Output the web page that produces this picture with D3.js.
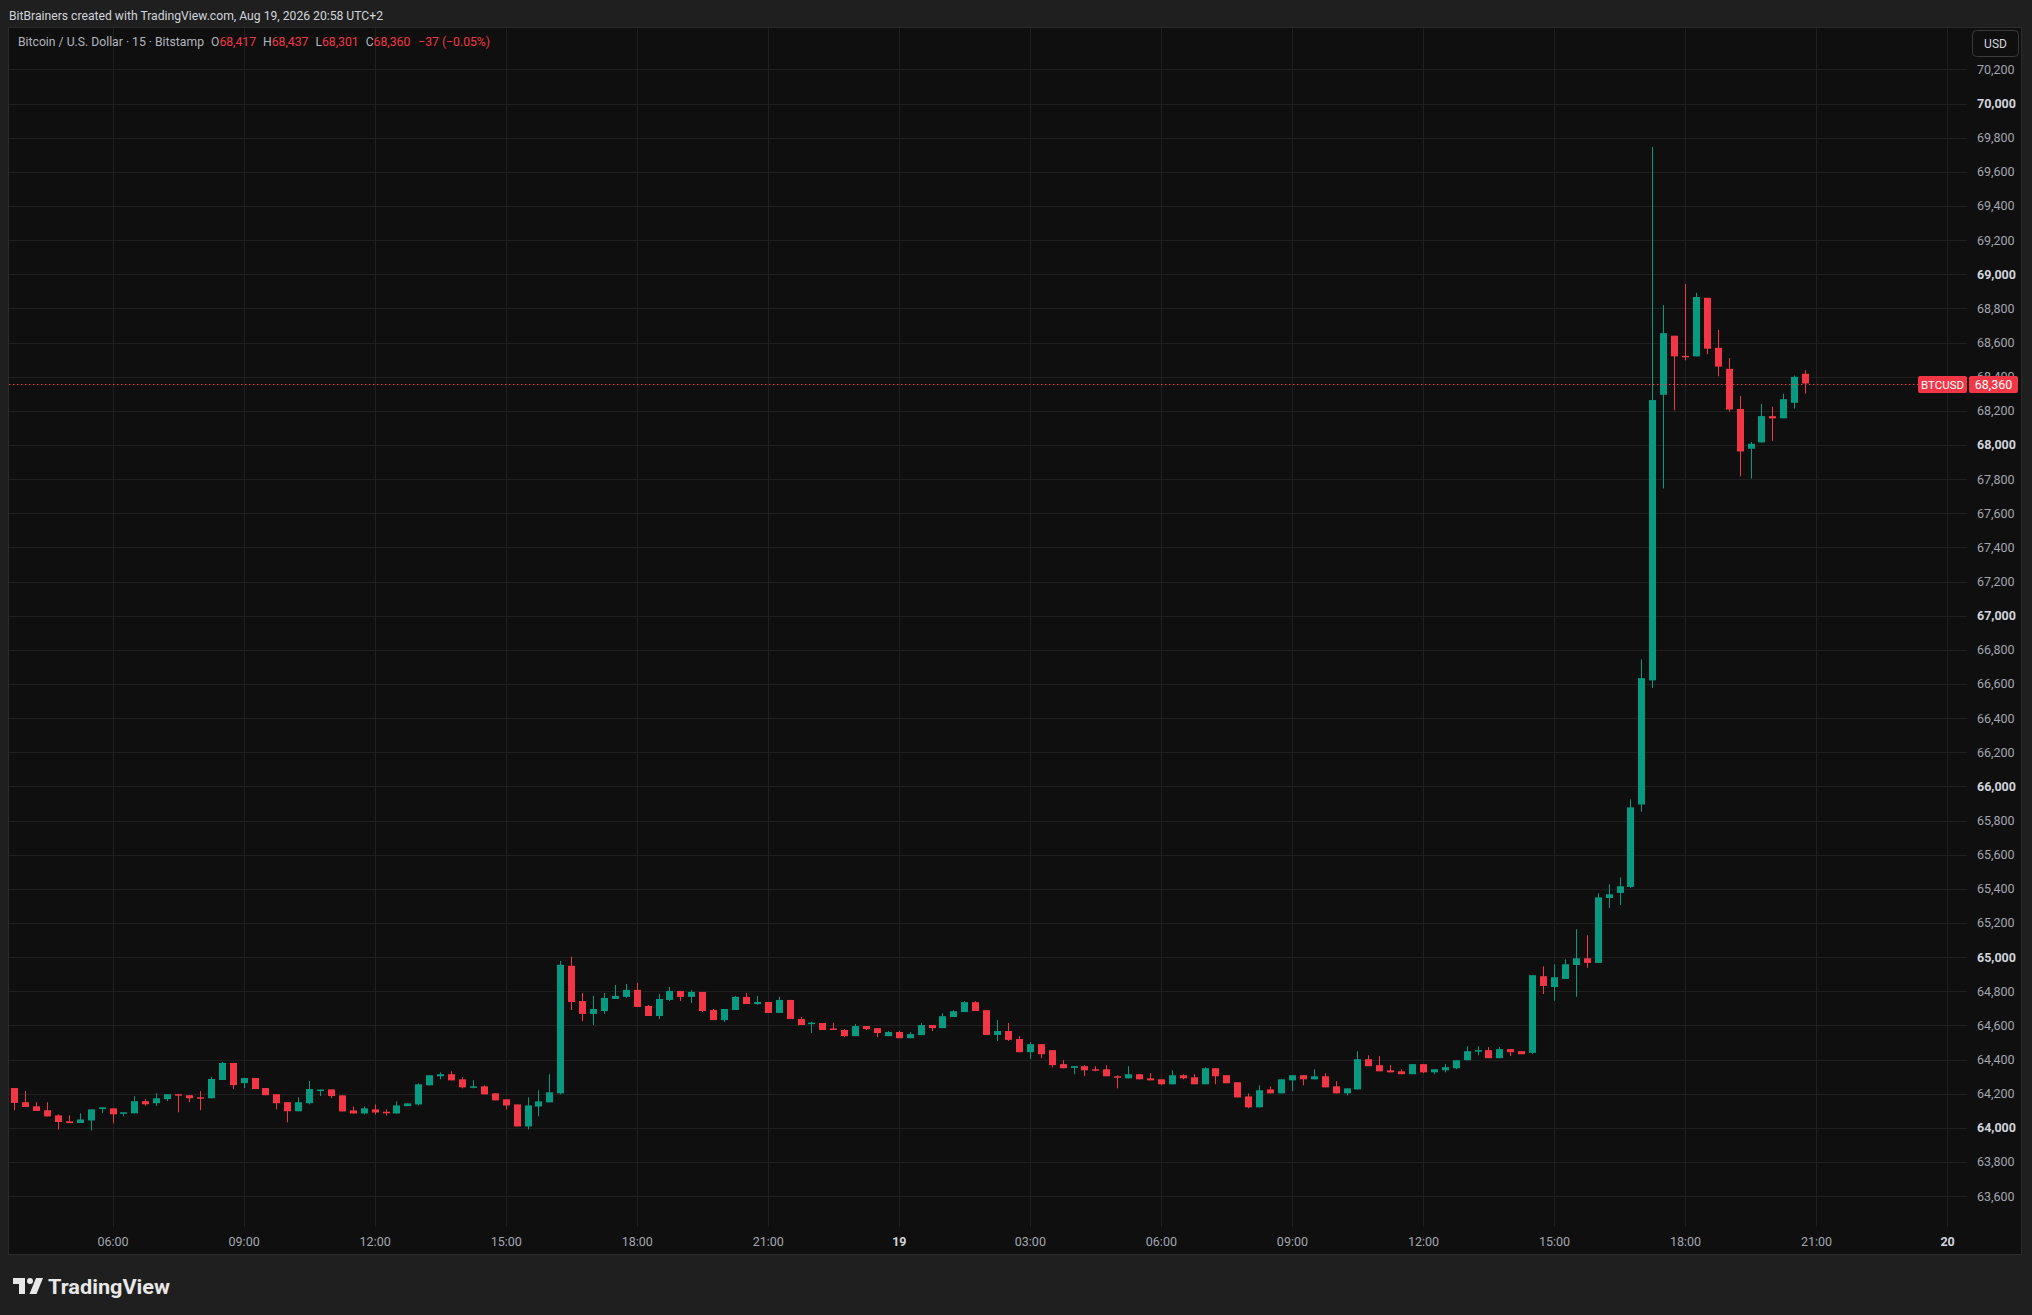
<!DOCTYPE html>
<html><head><meta charset="utf-8">
<script src="https://cdn.jsdelivr.net/npm/d3@7"></script>
<style>
html,body{margin:0;padding:0;background:#1f1f1f;overflow:hidden;}
svg{display:block;}
text{font-family:Roboto,"Liberation Sans",sans-serif;}
</style></head><body>
<svg id="c" width="2032" height="1315"></svg>
<script>
// ---- data (15-minute bars, wall-clock UTC+2 expressed as UTC) ----
const firstBar = "2026-08-18T03:45:00Z";
const barMinutes = 15;
const opens = [64233,64150,64126,64103,64073,64038,64028,64043,64110,64114,64089,64085,64156,64144,64168,64197,64191,64179,64173,64280,
64380,64262,64292,64233,64197,64150,64097,64144,64222,64225,64190,64102,64084,64108,64094,64084,64127,64137,64249,64302,
64314,64284,64237,64243,64202,64167,64137,64008,64125,64149,64202,64949,64743,64667,64684,64755,64767,64808,64714,64655,
64749,64802,64767,64796,64690,64631,64690,64767,64725,64737,64673,64749,64637,64610,64614,64582,64573,64537,64596,64584,
64537,64561,64525,64543,64602,64584,64649,64678,64736,64689,64544,64567,64520,64443,64490,64455,64373,64351,64361,64343,
64343,64302,64290,64314,64290,64284,64255,64308,64296,64255,64349,64308,64267,64184,64120,64225,64202,64278,64308,64284,
64302,64243,64202,64225,64402,64367,64337,64331,64314,64373,64325,64337,64349,64396,64449,64455,64408,64461,64449,64439,
64888,64825,64872,64954,64993,64966,65346,65376,65411,65894,66621,68294,68640,68522,68519,68862,68569,68446,68211,67978,
68015,68169,68156,68247,68417];
const highs = [64233,64215,64150,64150,64079,64073,64085,64108,64120,64114,64091,64185,64168,64203,64197,64197,64191,64215,64298,64386,
64380,64292,64292,64233,64197,64150,64179,64274,64224,64225,64190,64125,64125,64137,64108,64155,64143,64261,64308,64325,
64331,64296,64278,64249,64202,64167,64137,64178,64220,64314,64978,65002,64790,64773,64790,64837,64843,64849,64720,64784,
64825,64802,64808,64796,64696,64696,64773,64790,64773,64737,64767,64749,64649,64620,64614,64616,64578,64608,64596,64584,
64567,64567,64561,64614,64602,64672,64689,64742,64742,64689,64631,64614,64537,64502,64490,64455,64396,64361,64367,64361,
64367,64308,64361,64314,64320,64284,64337,64314,64314,64355,64349,64308,64267,64202,64249,64243,64284,64308,64308,64343,
64320,64273,64231,64449,64425,64420,64367,64343,64373,64373,64343,64373,64396,64478,64478,64473,64473,64461,64449,64894,
64946,64958,64987,65163,65128,65374,65426,65467,65924,66744,69746,68820,68640,68943,68891,68862,68674,68509,68287,68017,
68240,68224,68300,68407,68437];
const lows = [64103,64122,64099,64067,63990,64028,64028,63984,64087,64026,64067,64085,64128,64128,64156,64091,64150,64103,64173,64280,
64227,64233,64227,64191,64108,64032,64097,64138,64186,64174,64096,64084,64078,64078,64072,64084,64127,64131,64249,64284,
64278,64231,64231,64196,64161,64108,64008,63990,64067,64149,64196,64690,64625,64602,64667,64755,64761,64708,64655,64637,
64743,64743,64731,64678,64631,64620,64690,64725,64720,64673,64673,64637,64602,64555,64573,64576,64531,64537,64573,64531,
64537,64525,64525,64543,64567,64584,64649,64678,64684,64544,64509,64509,64443,64402,64408,64355,64349,64314,64302,64331,
64302,64231,64290,64284,64278,64249,64255,64284,64255,64255,64255,64261,64178,64114,64120,64202,64202,64214,64249,64284,
64237,64202,64190,64225,64361,64331,64325,64314,64314,64320,64314,64325,64343,64396,64425,64408,64408,64420,64431,64433,
64784,64744,64872,64767,64937,64966,65288,65305,65405,65852,66576,67745,68203,68496,68519,68532,68402,68195,67816,67803,
68015,68025,68156,68213,68301];
const closes = [64146,64122,64099,64067,64034,64028,64049,64108,64120,64079,64091,64156,64138,64173,64197,64193,64173,64175,64286,64380,
64250,64292,64227,64191,64144,64097,64150,64227,64224,64186,64096,64084,64114,64090,64090,64131,64143,64255,64308,64314,
64278,64237,64243,64196,64161,64131,64008,64131,64155,64208,64955,64737,64667,64696,64761,64773,64808,64708,64655,64755,
64802,64767,64796,64684,64631,64696,64767,64725,64737,64673,64749,64637,64602,64616,64573,64576,64537,64596,64578,64555,
64561,64525,64549,64602,64584,64654,64683,64736,64684,64544,64567,64515,64443,64490,64431,64367,64349,64361,64337,64337,
64302,64296,64314,64284,64278,64255,64308,64290,64255,64349,64302,64261,64178,64120,64220,64202,64284,64308,64284,64302,
64237,64202,64231,64402,64361,64331,64325,64314,64373,64325,64343,64355,64396,64449,64455,64408,64461,64443,64431,64894,
64831,64882,64958,64993,64966,65350,65368,65415,65877,66634,68263,68655,68519,68517,68867,68564,68459,68208,67962,68007,
68169,68156,68268,68399,68360];
const priceTickValues = [63600,63800,64000,64200,64400,64600,64800,65000,65200,65400,65600,65800,66000,66200,66400,66600,66800,
67000,67200,67400,67600,67800,68000,68200,68400,68600,68800,69000,69200,69400,69600,69800,70000,70200];
const timeTickLabels = ["06:00","09:00","12:00","15:00","18:00","21:00","19","03:00","06:00","09:00","12:00","15:00","18:00","21:00","20"];
const headerText = "BitBrainers created with TradingView.com, Aug 19, 2026 20:58 UTC+2";
const symbolTitle = "Bitcoin / U.S. Dollar · 15 · Bitstamp";
const legendPairs = [["O","68,417"],["H","68,437"],["L","68,301"],["C","68,360"]];
const legendChange = "\u221237 (\u22120.05%)";
const lastPrice = 68360;
const symbolName = "BTCUSD";

// ---- layout ----
const UP = "#089981", DOWN = "#f23645";
const frame = {x0: 8, y0: 27, x1: 2022, y1: 1255};
const plotRight = 1967, plotBottom = 1227;
const svg = d3.select("#c");

const t0 = new Date(firstBar);
const bars = opens.map((o, i) => ({
  t: new Date(t0.getTime() + i * barMinutes * 60000),
  o, h: highs[i], l: lows[i], c: closes[i]
}));

const x = d3.scaleTime()
  .domain([t0, new Date("2026-08-20T00:00:00Z")])
  .range([14.3, 1947.1]);
const y = d3.scaleLinear().domain([63600, 70200]).range([1196.1, 69.4]);

// background + frame
svg.append("rect").attr("width", 2032).attr("height", 1315).attr("fill", "#1f1f1f");
svg.append("rect")
  .attr("x", frame.x0 + 0.5).attr("y", frame.y0 + 0.5)
  .attr("width", frame.x1 - frame.x0 - 1).attr("height", frame.y1 - frame.y0 - 1)
  .attr("fill", "#0f0f0f").attr("stroke", "#2b2b2b");

svg.append("clipPath").attr("id", "plotclip").append("rect")
  .attr("x", frame.x0 + 1).attr("y", frame.y0 + 1)
  .attr("width", plotRight - frame.x0 - 1).attr("height", plotBottom - frame.y0 - 1);

// grid
const timeTicks = d3.utcHour.every(3).range(new Date("2026-08-18T06:00:00Z"), new Date("2026-08-20T00:00:01Z"));
const grid = svg.append("g").attr("stroke", "#1f1f1f").attr("stroke-width", 1);
grid.selectAll("line.h").data(priceTickValues).join("line")
  .attr("x1", frame.x0 + 1).attr("x2", plotRight)
  .attr("y1", d => Math.round(y(d)) + 0.5).attr("y2", d => Math.round(y(d)) + 0.5);
grid.selectAll("line.v").data(timeTicks).join("line")
  .attr("x1", d => Math.round(x(d)) + 0.5).attr("x2", d => Math.round(x(d)) + 0.5)
  .attr("y1", frame.y0 + 1).attr("y2", plotBottom);

// candles
const cg = svg.append("g").attr("clip-path", "url(#plotclip)");
const bw = 7;
const candle = cg.selectAll("g.c").data(bars).join("g")
  .attr("fill", d => d.c >= d.o ? UP : DOWN)
  .attr("stroke", d => d.c >= d.o ? UP : DOWN);
candle.append("line")
  .attr("x1", d => Math.round(x(d.t)) + 0.5).attr("x2", d => Math.round(x(d.t)) + 0.5)
  .attr("y1", d => y(d.h)).attr("y2", d => y(d.l)).attr("stroke-width", 1);
candle.append("rect")
  .attr("stroke", "none")
  .attr("x", d => Math.round(x(d.t)) - (bw - 1) / 2)
  .attr("width", bw)
  .attr("y", d => y(Math.max(d.o, d.c)))
  .attr("height", d => Math.max(1.5, y(Math.min(d.o, d.c)) - y(Math.max(d.o, d.c))));

// last price dotted line
const yl = Math.round(y(lastPrice)) + 0.5;
svg.append("line").attr("x1", frame.x0 + 1).attr("x2", 1918).attr("y1", yl).attr("y2", yl)
  .attr("stroke", DOWN).attr("stroke-width", 1).attr("stroke-dasharray", "1.5,2.5");

// price axis
const yAxis = d3.axisRight(y).tickValues(priceTickValues).tickFormat(d3.format(",")).tickSize(0).tickPadding(0);
const ya = svg.append("g").attr("transform", "translate(1977,0)").call(yAxis);
ya.select(".domain").remove();
ya.selectAll("text")
  .attr("fill", d => d % 1000 === 0 ? "#d1d4dc" : "#a3a6af")
  .attr("font-weight", d => d % 1000 === 0 ? "bold" : "normal")
  .attr("font-size", 12.5).attr("font-family", "Roboto, sans-serif");

// time axis
const xAxis = d3.axisBottom(x).tickValues(timeTicks).tickFormat((d, i) => timeTickLabels[i]).tickSize(0).tickPadding(10);
const xa = svg.append("g").attr("transform", `translate(0,${plotBottom})`).call(xAxis);
xa.select(".domain").remove();
xa.selectAll("text")
  .attr("fill", (d, i) => timeTickLabels[i].length <= 2 ? "#d1d4dc" : "#a3a6af")
  .attr("font-weight", (d, i) => timeTickLabels[i].length <= 2 ? "bold" : "normal")
  .attr("font-size", 12.5).attr("font-family", "Roboto, sans-serif");

// USD button
svg.append("rect").attr("x", 1972.5).attr("y", 30.5).attr("width", 46).attr("height", 26).attr("rx", 4)
  .attr("fill", "#0f0f0f").attr("stroke", "#3a3a3a");
svg.append("text").attr("x", 1995.5).attr("y", 44).attr("text-anchor", "middle").attr("dominant-baseline", "central")
  .attr("fill", "#d1d4dc").attr("font-size", 12).text("USD");

// last price labels
svg.append("rect").attr("x", 1918).attr("y", yl - 8.5).attr("width", 49).attr("height", 17).attr("rx", 2).attr("fill", DOWN);
svg.append("text").attr("x", 1942.5).attr("y", yl).attr("text-anchor", "middle").attr("dominant-baseline", "central")
  .attr("fill", "#ffffff").attr("font-size", 11.5).text(symbolName);
svg.append("rect").attr("x", 1969).attr("y", yl - 8.5).attr("width", 49).attr("height", 17).attr("rx", 2).attr("fill", DOWN);
svg.append("text").attr("x", 1993.5).attr("y", yl).attr("text-anchor", "middle").attr("dominant-baseline", "central")
  .attr("fill", "#ffffff").attr("font-size", 12.5).text(d3.format(",")(lastPrice));

// header
svg.append("text").attr("x", 9).attr("y", 15).attr("dominant-baseline", "central")
  .attr("fill", "#d1d4dc").attr("font-size", 12.5).attr("textLength", 374).attr("lengthAdjust", "spacingAndGlyphs")
  .text(headerText);

// legend
const lg = svg.append("text").attr("x", 18).attr("y", 42).attr("dominant-baseline", "central")
  .attr("font-size", 12.2).attr("fill", "#b2b5be");
lg.append("tspan").text(symbolTitle);
legendPairs.forEach((p, i) => {
  lg.append("tspan").attr("dx", i === 0 ? 7 : 7).attr("fill", "#b2b5be").text(p[0]);
  lg.append("tspan").attr("fill", DOWN).text(p[1]);
});
lg.append("tspan").attr("dx", 8).attr("fill", DOWN).text(legendChange);

// TradingView logo
const logo = svg.append("g").attr("transform", "translate(13,1278)").attr("fill", "#e8e8e8");
logo.append("path").attr("d", "M0 0 H12 V16 H6 V6 H0 Z");
logo.append("circle").attr("cx", 17).attr("cy", 3).attr("r", 3);
logo.append("path").attr("d", "M23 0 H30 L23.5 16 H16.5 Z");
svg.append("text").attr("x", 48).attr("y", 1294).attr("fill", "#e8e8e8")
  .attr("font-size", 21).attr("font-weight", "bold").attr("font-family", "Inter, Roboto, sans-serif")
  .attr("textLength", 122).attr("lengthAdjust", "spacingAndGlyphs")
  .text("TradingView");
</script>
</body></html>
